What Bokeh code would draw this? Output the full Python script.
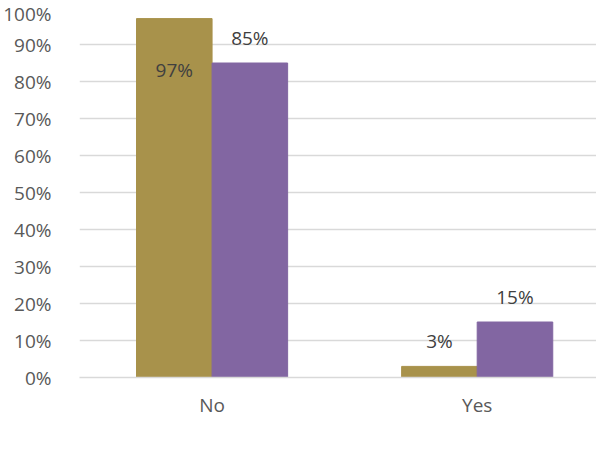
from bokeh.plotting import figure
from bokeh.models import (ColumnDataSource, Legend, LegendItem, Range1d, FixedTicker,
                          SingleIntervalTicker, CustomJSTickFormatter)
from bokeh.core.properties import value
from bokeh.embed import file_html
from bokeh.resources import INLINE

categories = ["No", "Yes"]
total_share = [97, 3]
fatal_share = [85, 15]
series_names = ["Total Crash Share", "Fatal/Incapacitating Crash Share"]
colors = ["#A8924B", "#8266A2"]

FONT = "Open Sans"
FS = "19px"
BW = 0.285

centers = [i + 0.5 for i in range(len(categories))]

p = figure(x_range=Range1d(0, 1.95), y_range=Range1d(0, 100), frame_width=517, frame_height=370,
           output_backend="svg", toolbar_location=None,
           min_border_left=79, min_border_right=0, min_border_top=7, min_border_bottom=0)
p.outline_line_color = None
p.background_fill_color = "white"
p.border_fill_color = "white"

src = ColumnDataSource(dict(
    x1=[c - BW / 2 for c in centers], x2=[c + BW / 2 for c in centers],
    total=total_share, fatal=fatal_share))

r1 = p.vbar(x="x1", top="total", width=BW, source=src, fill_color=colors[0], line_color=colors[0])
r2 = p.vbar(x="x2", top="fatal", width=BW, source=src, fill_color=colors[1], line_color=colors[1])

# data labels: outside end, moved inside if near the top (screen offset, + is down)
def label_offsets(vals):
    return [51 if v > 90 else -25 for v in vals]

lab = ColumnDataSource(dict(
    x=[c - BW / 2 for c in centers] + [c + BW / 2 for c in centers],
    y=total_share + fatal_share,
    t=[f"{v}%" for v in total_share + fatal_share],
    off=label_offsets(total_share + fatal_share)))
p.text(x="x", y="y", text="t", y_offset="off", source=lab,
       text_align="center", text_baseline="middle", text_font=value(FONT),
       text_font_size=FS, text_color="#404040")

p.yaxis.ticker = SingleIntervalTicker(interval=10)
p.yaxis.formatter = CustomJSTickFormatter(code="return tick.toFixed(0) + '%';")
p.yaxis.axis_line_color = None
p.yaxis.major_tick_line_color = None
p.yaxis.minor_tick_line_color = None
p.yaxis.major_tick_out = 0
p.yaxis.major_label_text_font = FONT
p.yaxis.major_label_text_font_size = FS
p.yaxis.major_label_text_color = "#595959"
p.yaxis.major_label_standoff = 24

p.xaxis.ticker = FixedTicker(ticks=centers)
p.xaxis.major_label_overrides = {c: name for c, name in zip(centers, categories)}
p.xaxis.axis_line_color = "#D9D9D9"
p.xaxis.axis_line_width = 1.5
p.xaxis.major_tick_line_color = None
p.xaxis.minor_tick_line_color = None
p.xaxis.major_tick_out = 0
p.xaxis.major_label_text_font = FONT
p.xaxis.major_label_text_font_size = FS
p.xaxis.major_label_text_color = "#595959"
p.xaxis.major_label_standoff = 14

p.xgrid.grid_line_color = None
p.ygrid.grid_line_color = "#D9D9D9"
p.ygrid.grid_line_width = 1.5

legend = Legend(items=[LegendItem(label=series_names[0], renderers=[r1]),
                       LegendItem(label=series_names[1], renderers=[r2])],
                orientation="horizontal", location="bottom_left",
                label_text_font=FONT, label_text_font_size=FS, label_text_color="#595959",
                glyph_width=14, glyph_height=14, label_standoff=4, spacing=8,
                border_line_color=None, background_fill_alpha=0, padding=0, margin=0)
p.add_layout(legend, "below")

open("out.html", "w").write(file_html(p, INLINE))
